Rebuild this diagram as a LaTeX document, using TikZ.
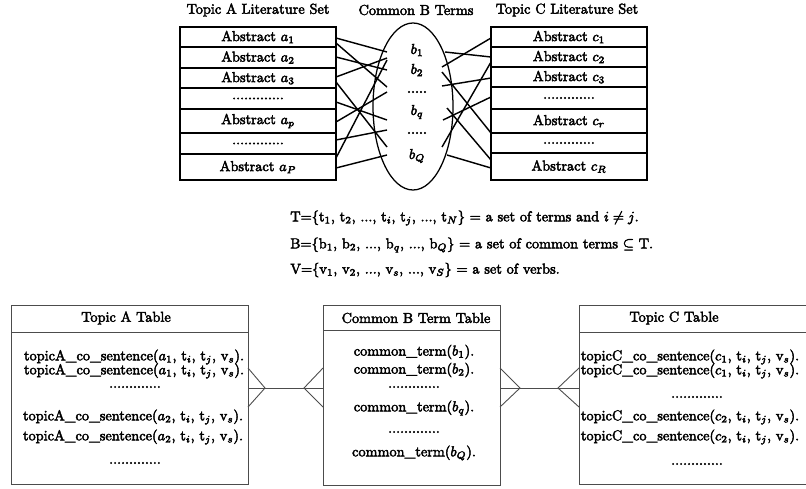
\documentclass[tikz,border=0pt]{standalone}
\usetikzlibrary{shapes.geometric}
\begin{document}
\begin{tikzpicture}[x=0.698pt,y=-0.698pt,
  topline/.style={line width=0.88pt},
  link/.style={line width=1.0pt},
  tbl/.style={line width=0.62pt, draw=black!70},
  lbl/.style={inner sep=0pt, execute at begin node={\special{pdf:literal q 2 Tr 0.3 w}}, execute at end node={\special{pdf:literal Q}}}]
\useasboundingbox (0,0) rectangle (806,488);

% ---------- shapes and connectors ----------
% A literature set rows
\foreach \t/\b in {27/47,47/68,68/88,88/109,109/133,133/154,154/180}{
  \draw[topline] (180,\t) rectangle (336,\b);
}
% C literature set rows
\foreach \t/\b in {27/47,47/67,67/87,87/109,109/133,133/153,153/180}{
  \draw[topline] (491,\t) rectangle (647,\b);
}
% common terms ellipse
\node[draw, ellipse, topline, inner sep=0pt, minimum width=80*0.698pt, minimum height=167*0.698pt] (ell) at (413,106.5) {};

% left connectors
\foreach \i/\ya/\yb in {1/38/52,2/43/87,3/57/70,4/77/58,5/82/147,6/102/120,7/122/92,8/140/130,9/158/60,10/168/155}{
  \coordinate (la\i) at (336,\ya);
  \coordinate (lb\i) at (387,\yb);
  \draw[link] (la\i) -- (lb\i);
}
% right connectors
\foreach \i/\xa/\ya/\yb in {1/445/52/57,2/442/67/38,3/442/72/133,4/442/86/78,5/447/108/160,6/443/120/97,7/442/147/62,8/447/155/168}{
  \coordinate (rb\i) at (\xa,\ya);
  \coordinate (rc\i) at (491,\yb);
  \draw[link] (rb\i) -- (rc\i);
}

% tables
\node[tbl, draw, anchor=north west, minimum width=237*0.698pt, minimum height=179*0.698pt, inner sep=0pt] (TA) at (11,305) {};
\draw[tbl] (11,332) -- (248,332);
\node[tbl, draw, anchor=north west, minimum width=177*0.698pt, minimum height=180*0.698pt, inner sep=0pt] (TB) at (323,305) {};
\draw[tbl] (323,330) -- (500,330);
\draw[tbl] (808,305) -- (579,305) -- (579,484) -- (808,484);
\draw[tbl] (579,332) -- (808,332);
\coordinate (TC) at (579,394);

% relationship lines with crow's feet
\coordinate (pA) at (248,388);
\coordinate (pB1) at (323,388);
\coordinate (pB2) at (500,388);
\coordinate (pC) at (579,388);
\draw[tbl] (pA) -- (pB1);
\draw[tbl] (pB2) -- (pC);
\draw[tbl] (248,368) -- (265,388) -- (248,407);
\draw[tbl] (323,368) -- (304,388) -- (323,407);
\draw[tbl] (500,368) -- (520,388) -- (500,407);
\draw[tbl] (579,368) -- (558,388) -- (579,407);

% ---------- texts ----------
\node[lbl] (tA) at (258,10) {Topic A Literature Set};
\node[lbl] (tB) at (416,10) {Common B Terms};
\node[lbl] (tC) at (567,10) {Topic C Literature Set};

\foreach \t/\b/\n/\l in {27/47/A1/{Abstract $a_1$},47/68/A2/{Abstract $a_2$},68/88/A3/{Abstract $a_3$},88/109/A4/{.............},109/133/A5/{Abstract $a_p$},133/154/A6/{.............},154/180/A7/{Abstract $a_P$}}{
  \node[lbl] (\n) at (258,{(\t+\b)/2}) {\l};
}
\foreach \t/\b/\n/\l in {27/47/C1/{Abstract $c_1$},47/67/C2/{Abstract $c_2$},67/87/C3/{Abstract $c_3$},87/109/C4/{.............},109/133/C5/{Abstract $c_r$},133/153/C6/{.............},153/180/C7/{Abstract $c_R$}}{
  \node[lbl] (\n) at (569,{(\t+\b)/2}) {\l};
}

\node[lbl] (b1) at (417,50) {$b_1$};
\node[lbl] (b2) at (417,70) {$b_2$};
\node[lbl] (bd1) at (417,92) {.....};
\node[lbl] (bq) at (417,112) {$b_q$};
\node[lbl] (bd2) at (417,133) {.....};
\node[lbl] (bQ) at (417,156) {$b_Q$};

\node[lbl, anchor=west] (Tdef) at (290,218) {T=\{t$_1$, t$_2$, ..., t$_i$, t$_j$, ..., t$_N$\} $=$ a set of terms and $i \neq j$.};
\node[lbl, anchor=west] (Bdef) at (290,245) {B=\{b$_1$, b$_2$, ..., b$_q$, ..., b$_Q$\} $=$ a set of common terms $\subseteq$ T.};
\node[lbl, anchor=west] (Vdef) at (290,270) {V=\{v$_1$, v$_2$, ..., v$_s$, ..., v$_S$\} $=$ a set of verbs.};

\node[lbl] (TAh) at (126,318) {Topic A Table};
\node[lbl] (TA1) at (134,357) {topicA\_co\_sentence($a_1$, t$_i$, t$_j$, v$_s$).};
\node[lbl] (TA2) at (134,371) {topicA\_co\_sentence($a_1$, t$_i$, t$_j$, v$_s$).};
\node[lbl] (TA3) at (135,387) {.............};
\node[lbl] (TA4) at (133,417) {topicA\_co\_sentence($a_2$, t$_i$, t$_j$, v$_s$).};
\node[lbl] (TA5) at (133,437) {topicA\_co\_sentence($a_2$, t$_i$, t$_j$, v$_s$).};
\node[lbl] (TA6) at (135,463) {.............};

\node[lbl] (TBh) at (416,318) {Common B Term Table};
\node[lbl] (TB1) at (414,352) {common\_term($b_1$).};
\node[lbl] (TB2) at (414,370) {common\_term($b_2$).};
\node[lbl] (TB3) at (414,387) {.............};
\node[lbl] (TB4) at (414,408) {common\_term($b_q$).};
\node[lbl] (TB5) at (414,432) {.............};
\node[lbl] (TB6) at (414,453) {common\_term($b_Q$).};

\node[lbl] (TCh) at (674,318) {Topic C Table};
\node[lbl] (TC1) at (690,357) {topicC\_co\_sentence($c_1$, t$_i$, t$_j$, v$_s$).};
\node[lbl] (TC2) at (690,371) {topicC\_co\_sentence($c_1$, t$_i$, t$_j$, v$_s$).};
\node[lbl] (TC3) at (697,397) {.............};
\node[lbl] (TC4) at (690,417) {topicC\_co\_sentence($c_2$, t$_i$, t$_j$, v$_s$).};
\node[lbl] (TC5) at (690,437) {topicC\_co\_sentence($c_2$, t$_i$, t$_j$, v$_s$).};
\node[lbl] (TC6) at (697,464) {.............};
\end{tikzpicture}
\end{document}
